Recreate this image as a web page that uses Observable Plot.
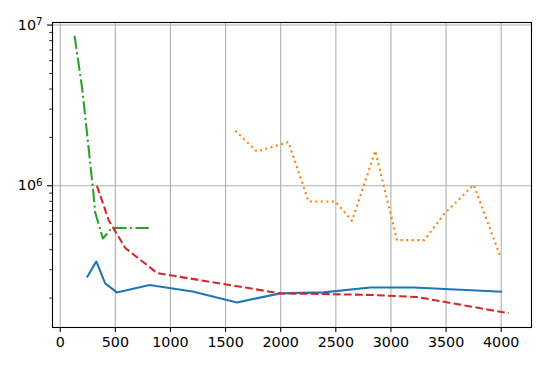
<!DOCTYPE html>
<html><head><meta charset="utf-8">
<script src="https://cdn.jsdelivr.net/npm/d3@7"></script>
<script src="https://cdn.jsdelivr.net/npm/@observablehq/plot@0.6"></script>
<style>body{margin:0;background:#fff}</style>
</head><body><div id="chart"></div>
<script>
// Series values
const blueX = [242, 327, 408, 514, 810, 1200, 1603, 1996, 2389, 2813, 3206, 4008];
const blueY = [2.69e5, 3.38e5, 2.47e5, 2.17e5, 2.41e5, 2.20e5, 1.88e5, 2.14e5, 2.17e5, 2.33e5, 2.33e5, 2.19e5];

const orangeX = [1588, 1785, 2070, 2253, 2495, 2647, 2858, 3055, 3303, 3485, 3751, 3993];
const orangeY = [2.2e6, 1.635e6, 1.87e6, 7.98e5, 7.98e5, 6.05e5, 1.65e6, 4.59e5, 4.59e5, 6.7e5, 1.014e6, 3.62e5];

const greenX = [130, 200, 299, 318, 387, 469, 832];
const greenY = [8.58e6, 4.0e6, 9.3e5, 6.79e5, 4.7e5, 5.46e5, 5.46e5];

const redX = [333, 440, 590, 880, 1996, 2389, 2843, 3237, 4068];
const redY = [1.0e6, 6.1e5, 4.1e5, 2.86e5, 2.14e5, 2.12e5, 2.09e5, 2.03e5, 1.61e5];

// Tick labels
const xTicks = [0, 500, 1000, 1500, 2000, 2500, 3000, 3500, 4000];
const yTicks = [1e6, 1e7];
const yTickBase = ["10", "10"];
const yTickExp = ["6", "7"];
const yMinor = [2e5, 3e5, 4e5, 5e5, 6e5, 7e5, 8e5, 9e5, 2e6, 3e6, 4e6, 5e6, 6e6, 7e6, 8e6, 9e6];

const toRows = (xs, ys) => xs.map((x, i) => ({x, y: ys[i]}));
const blue = toRows(blueX, blueY);
const orange = toRows(orangeX, orangeY);
const green = toRows(greenX, greenY);
const red = toRows(redX, redY);

const lw = 2.08;
const fs = 14.3;
const chart = Plot.plot({
  width: 548, height: 366,
  marginLeft: 52, marginRight: 17, marginTop: 22, marginBottom: 39,
  style: {fontFamily: "DejaVu Sans", fontSize: fs + "px", color: "black", background: "white"},
  x: {domain: [-70, 4275]},
  y: {type: "log", domain: [Math.pow(10, 5.118), Math.pow(10, 7.016)]},
  marks: [
    Plot.gridX(xTicks, {stroke: "#b0b0b0", strokeOpacity: 1, strokeWidth: 1.1}),
    Plot.gridY(yTicks, {stroke: "#b0b0b0", strokeOpacity: 1, strokeWidth: 1.1}),
    Plot.line(blue, {x: "x", y: "y", stroke: "#1f77b4", strokeWidth: lw, strokeLinejoin: "round", strokeLinecap: "butt"}),
    Plot.line(orange, {x: "x", y: "y", stroke: "#ff7f0e", strokeWidth: lw, strokeDasharray: "2.08,3.43", strokeLinejoin: "round", strokeLinecap: "butt"}),
    Plot.line(green, {x: "x", y: "y", stroke: "#2ca02c", strokeWidth: lw, strokeDasharray: "13.3,3.33,2.08,3.33", strokeLinejoin: "round", strokeLinecap: "butt"}),
    Plot.line(red, {x: "x", y: "y", stroke: "#d62728", strokeWidth: lw, strokeDasharray: "7.7,3.33", strokeLinejoin: "round", strokeLinecap: "butt"}),
    Plot.frame({stroke: "black", strokeWidth: 1.1}),
    Plot.axisX(xTicks, {tickSize: 4.9, tickPadding: 4.5, strokeWidth: 1.1, fontSize: fs, label: null, tickFormat: d => String(d)}),
    Plot.axisY(yTicks, {tickSize: 4.9, tickPadding: 5, strokeWidth: 1.1, fontSize: fs, label: null,
      tickFormat: d => { const i = yTicks.indexOf(d); return yTickBase[i] + "^" + yTickExp[i]; }}),
    Plot.axisY(yMinor, {tickSize: 2.8, strokeWidth: 0.83, label: null, tickFormat: () => ""})
  ]
});
// render "10^6" as 10 with a superscript exponent
chart.querySelectorAll("text").forEach(t => {
  const s = t.textContent;
  if (s.includes("^")) {
    const [b, e] = s.split("^");
    t.textContent = b;
    const ts = document.createElementNS("http://www.w3.org/2000/svg", "tspan");
    ts.setAttribute("dy", "-0.42em");
    ts.setAttribute("font-size", "72%");
    ts.textContent = e;
    t.appendChild(ts);
  }
});
document.getElementById("chart").appendChild(chart);
</script>
</body></html>
